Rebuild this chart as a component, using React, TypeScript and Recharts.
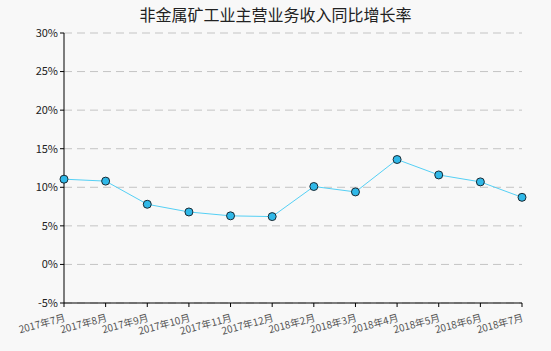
import { LineChart, Line, XAxis, YAxis, CartesianGrid } from 'recharts';

const months = [
  '2017年7月', '2017年8月', '2017年9月', '2017年10月', '2017年11月', '2017年12月',
  '2018年2月', '2018年3月', '2018年4月', '2018年5月', '2018年6月', '2018年7月',
];
const growth = [11.05, 10.8, 7.8, 6.8, 6.3, 6.2, 10.1, 9.4, 13.6, 11.6, 10.7, 8.7];
const yTicks = [-5, 0, 5, 10, 15, 20, 25, 30];

const data = months.map((m, i) => ({ month: m, value: growth[i] }));

const MonthTick = (props: any) => {
  const { x, y, payload } = props;
  return (
    <text
      x={x + 2}
      y={y + 12}
      textAnchor="end"
      fontSize={10}
      fill="#555"
      transform={`rotate(-15 ${x + 2} ${y + 12})`}
    >
      {payload.value}
    </text>
  );
};

export default function App() {
  return (
    <div
      style={{
        position: 'fixed',
        top: 0,
        left: 0,
        width: 551,
        height: 351,
        background: '#f8f8f8',
        fontFamily: '"Noto Sans CJK SC", "DejaVu Sans", sans-serif',
      }}
    >
      <div
        style={{
          position: 'absolute',
          top: 2,
          left: 0,
          width: 551,
          textAlign: 'center',
          fontSize: 16,
          color: '#222',
        }}
      >
        非金属矿工业主营业务收入同比增长率
      </div>
      <LineChart
        width={551}
        height={351}
        data={data}
        margin={{ top: 33, right: 29, bottom: 8, left: 0 }}
      >
        <CartesianGrid vertical={false} stroke="#c4c4c4" strokeDasharray="8 5" />
        <XAxis
          dataKey="month"
          interval={0}
          height={40}
          tick={<MonthTick />}
          tickSize={4}
          axisLine={{ stroke: '#000' }}
          tickLine={{ stroke: '#000' }}
          padding={{ left: 0, right: 0 }}
        />
        <YAxis
          width={64}
          domain={[-5, 30]}
          ticks={yTicks}
          tickFormatter={(v: number) => `${v}%`}
          tick={{ fontSize: 11, fill: '#222' }}
          tickSize={4}
          axisLine={{ stroke: '#000' }}
          tickLine={{ stroke: '#000' }}
        />
        <Line
          type="linear"
          dataKey="value"
          stroke="#55d0f5"
          strokeWidth={1}
          dot={{ r: 4, fill: '#2fb8e8', stroke: '#1a2a33', strokeWidth: 1 }}
          isAnimationActive={false}
        />
      </LineChart>
    </div>
  );
}
